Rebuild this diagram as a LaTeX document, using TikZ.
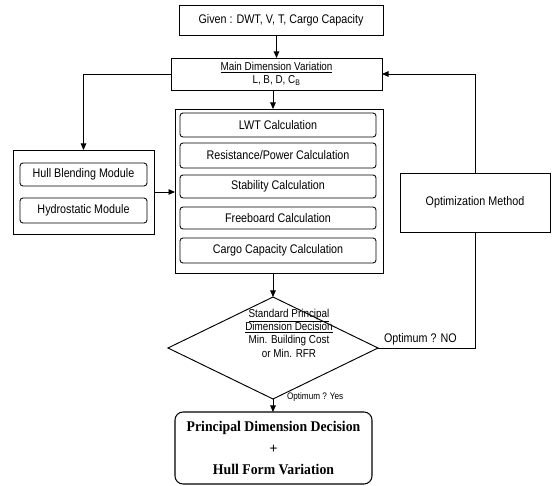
\documentclass[tikz,border=0pt]{standalone}
\usepackage{fontspec}
\setmainfont{Liberation Sans}[FakeStretch=0.86]
\newfontfamily\boldserif{Liberation Serif}[FakeStretch=0.93]
\usetikzlibrary{arrows.meta,shapes.geometric}

\begin{document}
\begin{tikzpicture}[x=1pt,y=-1pt,
  every node/.style={inner sep=0pt,outer sep=0pt},
  frame/.style={draw,line width=0.95pt},
  module/.style={draw,line width=0.85pt,rounded corners=3pt},
  arr/.style={line width=0.95pt,-{Triangle[length=6.5pt,width=5.5pt]}},
  link/.style={line width=0.95pt},
  txt/.style={font=\fontsize{12.5}{14}\selectfont},
  smalltxt/.style={font=\fontsize{11.5}{13.4}\selectfont,align=center}]

\useasboundingbox (0,0) rectangle (552,486);

% input data and main dimension variation
\node[frame,txt,minimum width=204pt,minimum height=30pt] (given) at (281,20)
  {Given : DWT, V, T, Cargo Capacity};
\node[frame,minimum width=211pt,minimum height=32pt,align=center,
      font=\fontsize{11.5}{13}\selectfont] (main) at (276.5,74)
  {\underline{Main Dimension Variation}\\L, B, D, C\textsubscript{B}};

% hull modules
\node[frame,minimum width=141pt,minimum height=84pt] (hull) at (83.5,192) {};
\node[module,txt,minimum width=127pt,minimum height=23pt] (blend) at (83.5,174.5)
  {Hull Blending Module};
\node[module,txt,minimum width=127pt,minimum height=25pt] (hydro) at (83.5,210.5)
  {Hydrostatic Module};

% calculation block
\node[frame,minimum width=208pt,minimum height=164pt] (calc) at (279,191) {};
\node[module,txt,minimum width=196pt,minimum height=24pt] (lwt) at (278,125)
  {LWT Calculation};
\node[module,txt,minimum width=196pt,minimum height=25pt] (res) at (278,155.5)
  {Resistance/Power Calculation};
\node[module,txt,minimum width=196pt,minimum height=23pt] (stab) at (278,186.5)
  {Stability Calculation};
\node[module,txt,minimum width=196pt,minimum height=22pt] (free) at (278,218)
  {Freeboard Calculation};
\node[module,txt,minimum width=196pt,minimum height=25pt] (cargo) at (278,250.5)
  {Cargo Capacity Calculation};

% optimization
\node[frame,txt,minimum width=150pt,minimum height=59pt] (opt) at (475,202.5)
  {Optimization Method};

% decision
\node[diamond,draw,line width=0.95pt,minimum width=210pt,minimum height=102pt] (dec)
  at (273,348) {};
\node[smalltxt] (dectext) at (289,333)
  {\underline{Standard Principal}\\\underline{Dimension Decision}\\Min. Building Cost\\or Min. RFR};
\node[txt,anchor=south west] (no) at (384,345) {Optimum ? NO};

% final result
\node[draw,line width=1.05pt,rounded corners=8pt,minimum width=197pt,minimum height=72pt,
      align=center,font=\boldserif\bfseries\fontsize{14.8}{21.5}\selectfont] (final) at (273.5,448)
  {Principal Dimension Decision\\+\\Hull Form Variation};

% lower label, only its lower part is printed
\begin{scope}
  \clip (280,393) rectangle (350,404);
  \node[font=\fontsize{9.5}{10}\selectfont,anchor=base west] (yes) at (287,400) {Optimum ? Yes};
\end{scope}

% connectors
\draw[arr] (given.south -| main.north) -- (main.north);
\draw[arr] (main.west) -| (hull.north);
\draw[arr] (hull.east) -- (hull.east -| calc.west);
\draw[arr] (main.south -| dec.north) -- (calc.north -| dec.north);
\draw[arr] (calc.south -| dec.north) -- (dec.north);
\draw[arr] (dec.south) -- (final.north -| dec.south);
\draw[link] (dec.east) -- (dec.east -| opt.south) -- (opt.south);
\draw[arr] (opt.north) -- (opt.north |- main.east) -- (main.east);

\end{tikzpicture}
\end{document}
